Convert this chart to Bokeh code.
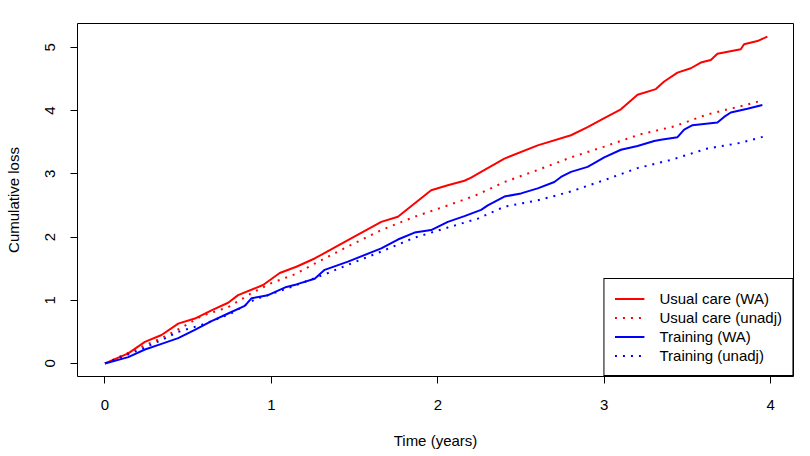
from bokeh.plotting import figure
from bokeh.models import Range1d, Legend, LegendItem, FixedTicker
from bokeh.embed import file_html
from bokeh.resources import INLINE

# Usual care (WA)
uc_wa_t = [0, 0.14, 0.24, 0.34, 0.44, 0.54, 0.64, 0.74, 0.80, 0.95, 1.05, 1.15, 1.26, 1.46, 1.66,
           1.76, 1.86, 1.96, 2.06, 2.16, 2.20, 2.26, 2.40, 2.60, 2.80, 2.90, 3.00, 3.10, 3.20, 3.31,
           3.36, 3.44, 3.52, 3.58, 3.64, 3.68, 3.82, 3.84, 3.92, 3.98]
uc_wa_y = [0, 0.16, 0.34, 0.45, 0.63, 0.71, 0.84, 0.96, 1.08, 1.24, 1.43, 1.53, 1.66, 1.95, 2.24,
           2.32, 2.53, 2.74, 2.82, 2.89, 2.94, 3.03, 3.24, 3.45, 3.61, 3.74, 3.88, 4.02, 4.25, 4.34,
           4.46, 4.60, 4.67, 4.76, 4.80, 4.90, 4.97, 5.05, 5.10, 5.17]

# Usual care (unadj)
uc_un_t = [0, 0.10, 0.20, 0.34, 0.47, 0.58, 0.74, 0.88, 1.00, 1.15, 1.26, 1.46, 1.66, 1.86, 2.06,
           2.22, 2.40, 2.60, 2.80, 3.00, 3.21, 3.42, 3.62, 3.82, 3.95]
uc_un_y = [0, 0.12, 0.24, 0.40, 0.58, 0.75, 0.89, 1.11, 1.27, 1.42, 1.58, 1.85, 2.11, 2.32, 2.50,
           2.65, 2.87, 3.06, 3.26, 3.43, 3.62, 3.75, 3.94, 4.07, 4.16]

# Training (WA)
tr_wa_t = [0, 0.14, 0.24, 0.34, 0.44, 0.54, 0.64, 0.74, 0.84, 0.88, 0.98, 1.09, 1.15, 1.26, 1.32,
           1.46, 1.66, 1.76, 1.86, 1.96, 2.06, 2.16, 2.20, 2.26, 2.30, 2.40, 2.50, 2.60, 2.70, 2.74,
           2.80, 2.90, 3.00, 3.10, 3.20, 3.30, 3.34, 3.44, 3.48, 3.53, 3.68, 3.72, 3.76, 3.86, 3.95]
tr_wa_y = [0, 0.10, 0.22, 0.31, 0.40, 0.53, 0.67, 0.79, 0.91, 1.03, 1.08, 1.21, 1.25, 1.34, 1.48,
           1.61, 1.82, 1.96, 2.07, 2.11, 2.24, 2.33, 2.37, 2.43, 2.50, 2.64, 2.69, 2.77, 2.87, 2.95,
           3.03, 3.11, 3.26, 3.38, 3.44, 3.52, 3.54, 3.58, 3.70, 3.77, 3.81, 3.90, 3.97, 4.03, 4.09]

# Training (unadj)
tr_un_t = [0, 0.10, 0.22, 0.34, 0.44, 0.58, 0.75, 0.90, 1.10, 1.34, 1.46, 1.66, 1.86, 2.06, 2.24,
           2.40, 2.60, 2.80, 3.00, 3.20, 3.40, 3.62, 3.82, 3.96]
tr_un_y = [0, 0.10, 0.23, 0.37, 0.50, 0.61, 0.78, 1.01, 1.19, 1.43, 1.56, 1.77, 1.99, 2.15, 2.29,
           2.48, 2.58, 2.72, 2.90, 3.09, 3.22, 3.40, 3.49, 3.59]

x_ticks = [0, 1, 2, 3, 4]
y_ticks = [0, 1, 2, 3, 4, 5]
labels = ["Usual care (WA)", "Usual care (unadj)", "Training (WA)", "Training (unadj)"]

FONT = "Liberation Sans"

p = figure(width=802, height=452, output_backend="svg", toolbar_location=None,
           x_range=Range1d(-0.165, 4.137), y_range=Range1d(-0.207, 5.378),
           min_border_left=77, min_border_right=9, min_border_top=23, min_border_bottom=76)
p.background_fill_color = "white"
p.border_fill_color = "white"
p.outline_line_color = "black"
p.outline_line_width = 1
p.outline_line_alpha = 1
p.xgrid.visible = False
p.ygrid.visible = False

r1 = p.line(uc_wa_t, uc_wa_y, line_color="red", line_width=2)
r2 = p.line(uc_un_t, uc_un_y, line_color="red", line_width=2, line_dash="2 6")
r3 = p.line(tr_wa_t, tr_wa_y, line_color="blue", line_width=2)
r4 = p.line(tr_un_t, tr_un_y, line_color="blue", line_width=2, line_dash="2 6")

for ax, ticks in ((p.xaxis, x_ticks), (p.yaxis, y_ticks)):
    ax.ticker = FixedTicker(ticks=ticks)
    ax.axis_line_color = None
    ax.major_tick_line_color = "black"
    ax.major_tick_out = 7
    ax.major_tick_in = 0
    ax.minor_tick_line_color = None
    ax.major_label_text_font = FONT
    ax.major_label_text_font_size = "15px"
    ax.major_label_text_color = "black"
    ax.axis_label_text_font = FONT
    ax.axis_label_text_font_size = "15px"
    ax.axis_label_text_font_style = "normal"
    ax.axis_label_text_color = "black"

p.xaxis.axis_label = "Time (years)"
p.yaxis.axis_label = "Cumulative loss"
p.xaxis.major_label_standoff = 16
p.yaxis.major_label_standoff = 15
p.xaxis.axis_label_standoff = 19
p.yaxis.axis_label_standoff = 21
p.yaxis.major_label_orientation = "vertical"

legend = Legend(items=[LegendItem(label=l, renderers=[r]) for l, r in zip(labels, [r1, r2, r3, r4])],
                location="bottom_right", margin=0, padding=10, spacing=0,
                glyph_width=30, glyph_height=19, label_height=19, label_standoff=15,
                label_text_font=FONT, label_text_font_size="15px", label_text_color="black",
                border_line_color="black", border_line_width=1, border_line_alpha=1,
                background_fill_color="white", background_fill_alpha=1)
p.add_layout(legend)

open("out.html", "w").write(file_html(p, INLINE))
